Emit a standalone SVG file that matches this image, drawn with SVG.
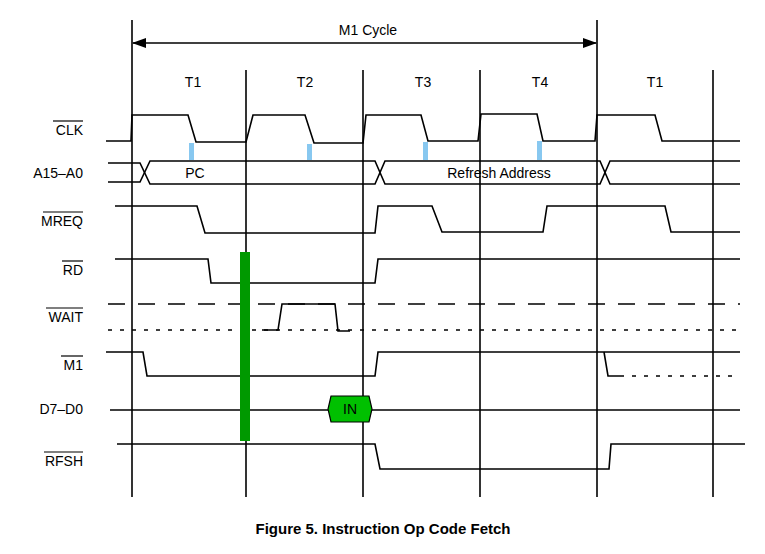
<svg xmlns="http://www.w3.org/2000/svg" width="765" height="554" viewBox="0 0 765 554">
<style>
text{font-family:"Liberation Sans",Arial,sans-serif;font-size:14px;fill:#000}
.lbl{text-anchor:end}
.s{fill:none;stroke:#000;stroke-width:1.6}
.g{stroke:#000;stroke-width:1.6}
.ov{stroke:#000;stroke-width:1.2}
.tick{fill:#88c8f0}
</style>
<defs>
<marker id="ah" markerWidth="14" markerHeight="10" refX="13" refY="5" orient="auto-start-reverse" markerUnits="userSpaceOnUse">
<path d="M0,0 L14,5 L0,10 Z" fill="#000"/>
</marker>
</defs>
<rect width="765" height="554" fill="#fff"/>
<g id="grid">
<line class="g" x1="132" y1="20" x2="132" y2="497"/>
<line class="g" x1="597" y1="20" x2="597" y2="497"/>
<line class="g" x1="246" y1="70" x2="246" y2="497"/>
<line class="g" x1="363" y1="70" x2="363" y2="497"/>
<line class="g" x1="480" y1="70" x2="480" y2="497"/>
<line class="g" x1="713" y1="70" x2="713" y2="497"/>
</g>
<g id="connectors">
<line class="g" x1="133" y1="43" x2="596" y2="43" marker-start="url(#ah)" marker-end="url(#ah)"/>
</g>
<text x="368" y="35" text-anchor="middle">M1 Cycle</text>
<g text-anchor="middle">
<text x="193" y="87">T1</text><text x="305" y="87">T2</text><text x="423" y="87">T3</text><text x="540" y="87">T4</text><text x="655" y="87">T1</text>
</g>
<g id="labels">
<text class="lbl" x="83" y="135">CLK</text><line class="ov" x1="53" y1="121" x2="83" y2="121"/>
<text class="lbl" x="83" y="178">A15–A0</text>
<text class="lbl" x="83" y="226">MREQ</text><line class="ov" x1="43" y1="212" x2="83" y2="212"/>
<text class="lbl" x="83" y="275">RD</text><line class="ov" x1="62" y1="261" x2="83" y2="261"/>
<text class="lbl" x="83" y="322">WAIT</text><line class="ov" x1="46" y1="308" x2="83" y2="308"/>
<text class="lbl" x="83" y="370">M1</text><line class="ov" x1="61" y1="356" x2="83" y2="356"/>
<text class="lbl" x="83" y="414">D7–D0</text>
<text class="lbl" x="83" y="466">RFSH</text><line class="ov" x1="44" y1="452" x2="83" y2="452"/>
</g>
<g id="clk">
<polyline class="s" points="106,141 131,141 132,115 188,115 196,142 246,142 253,115 305,115 314,143 363,143 366,115 421,115 428,141 478,141 481,114 537,114 543,141 595,141 597,115 655,115 662,141 740,141"/>
<rect class="tick" x="189" y="143" width="5" height="17"/>
<rect class="tick" x="307" y="144" width="5" height="16"/>
<rect class="tick" x="423" y="142" width="5" height="18"/>
<rect class="tick" x="537" y="141" width="5" height="19"/>
</g>
<g id="addr">
<polyline class="s" points="108,163 140,163 150,184 375,184 385,161 600,161 610,184 740,184"/>
<polyline class="s" points="108,182 140,182 150,161 375,161 385,184 600,184 610,161 740,161"/>
<text x="195" y="178" text-anchor="middle">PC</text>
<text x="499" y="178" text-anchor="middle">Refresh Address</text>
</g>
<g id="mreq"><polyline class="s" points="115,206 197,206 205,233 375,233 378,206 432,206 442,232 543,232 547,206 665,206 671,232 740,232"/></g>
<g id="rd"><polyline class="s" points="115,259 208,259 211,283 375,283 378,259 740,259"/></g>
<g id="wait">
<line x1="108" y1="304" x2="740" y2="304" stroke="#000" stroke-width="1.6" stroke-dasharray="17,13"/>
<line x1="108" y1="330" x2="740" y2="330" stroke="#000" stroke-width="1.6" stroke-dasharray="4,8"/>
<polyline class="s" points="262,330 278,330 282,304 335,304 338,331 350,331"/>
</g>
<g id="m1">
<polyline class="s" points="106,352 143,352 147,376 375,376 378,352 740,352"/>
<polyline class="s" points="604,352 608,376 620,376"/>
<line x1="620" y1="376" x2="740" y2="376" stroke="#000" stroke-width="1.6" stroke-dasharray="4,8"/>
</g>
<g id="data">
<line class="g" x1="110" y1="410" x2="328" y2="410"/>
<line class="g" x1="372" y1="410" x2="740" y2="410"/>
<polygon points="331,396 369,396 372,409 369,422 331,422 328,409" fill="#00c000" stroke="#000" stroke-width="1.2"/>
<text x="350" y="414" text-anchor="middle">IN</text>
</g>
<g id="rfsh"><polyline class="s" points="117,444 375,444 380,469 609,469 611,444 745,444"/></g>
<rect id="bar" x="240" y="252" width="10" height="189" fill="#009900"/>
<text x="383" y="534" text-anchor="middle" style="font-weight:bold;font-size:15px">Figure 5. Instruction Op Code Fetch</text>
</svg>
